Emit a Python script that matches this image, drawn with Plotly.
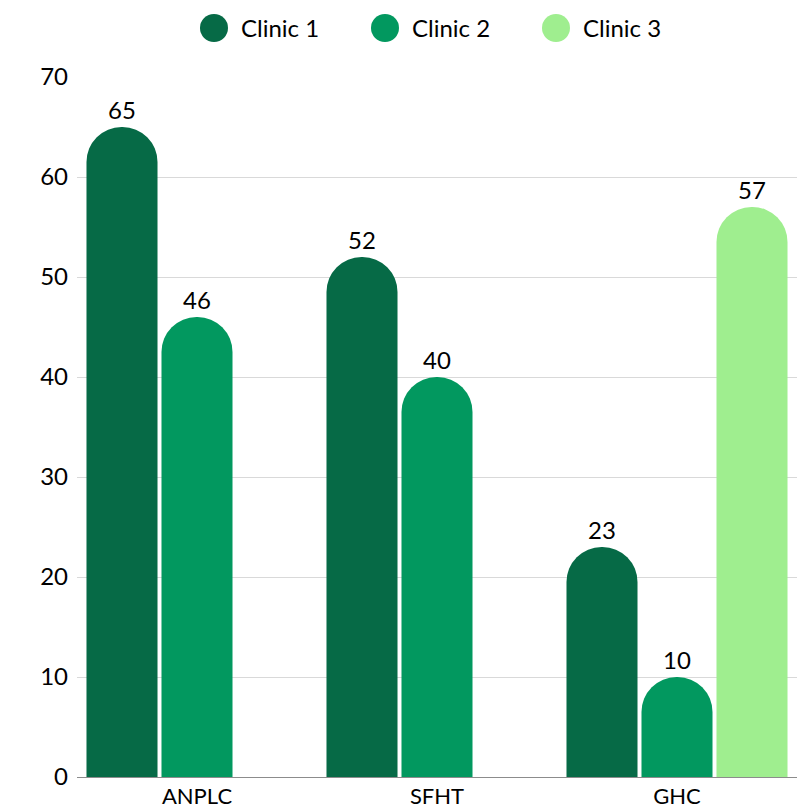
import plotly.graph_objects as go

categories = ["ANPLC", "SFHT", "GHC"]
clinic1 = [65, 52, 23]
clinic2 = [46, 40, 10]
clinic3 = [None, None, 57]
series_names = ["Clinic 1", "Clinic 2", "Clinic 3"]
colors = ["#066A46", "#02985F", "#9FEE8F"]
y_ticks = [0, 10, 20, 30, 40, 50, 60, 70]

FONT = "Lato, 'Open Sans', sans-serif"

fig = go.Figure()
for name, vals, col in zip(series_names, [clinic1, clinic2, clinic3], colors):
    fig.add_trace(go.Bar(
        x=categories, y=vals, name=name, marker_color=col,
        marker_line_width=0,
        text=[("" if v is None else str(v)) for v in vals],
        textposition="outside", cliponaxis=False,
        textfont=dict(size=24, color="#000000", family=FONT),
        showlegend=False,
    ))

W, L, R, T, B = 804, 77, 7, 77, 34
plot_w = W - L - R
plot_h = 811 - T - B

shapes = []
annotations = []
legend_x = [214, 385, 556]
legend_y_px = 28
for name, col, cx in zip(series_names, colors, legend_x):
    xa = (cx - L) / plot_w
    ya = (811 - B - legend_y_px) / plot_h
    shapes.append(dict(type="circle", xref="paper", yref="paper",
                       xsizemode="pixel", ysizemode="pixel",
                       xanchor=xa, yanchor=ya, x0=-14, x1=14, y0=-14, y1=14,
                       fillcolor=col, line=dict(width=0)))
    annotations.append(dict(xref="paper", yref="paper", x=(cx + 25 - L) / plot_w, y=ya,
                            xanchor="left", yanchor="middle", showarrow=False,
                            text=name, font=dict(size=24, color="#000000", family=FONT)))

fig.update_layout(
    width=W, height=811,
    margin=dict(l=L, r=R, t=T, b=B, autoexpand=False),
    paper_bgcolor="white", plot_bgcolor="white",
    barmode="group", bargap=0.0625, bargroupgap=0.053,
    barcornerradius="50%",
    font=dict(family=FONT, size=22, color="#000000"),
    shapes=shapes, annotations=annotations,
    xaxis=dict(showgrid=False, showline=True, linecolor="#8c8c8c", linewidth=1,
               ticks="", tickfont=dict(size=22, family=FONT), automargin=False),
    yaxis=dict(range=[0, 70], tickvals=y_ticks, showgrid=True, gridcolor="#d9d9d9",
               gridwidth=1, zeroline=False, showline=False, ticks="", automargin=False,
               tickfont=dict(size=24, family=FONT), ticklabelstandoff=8),
)

fig.write_html("out.html")
